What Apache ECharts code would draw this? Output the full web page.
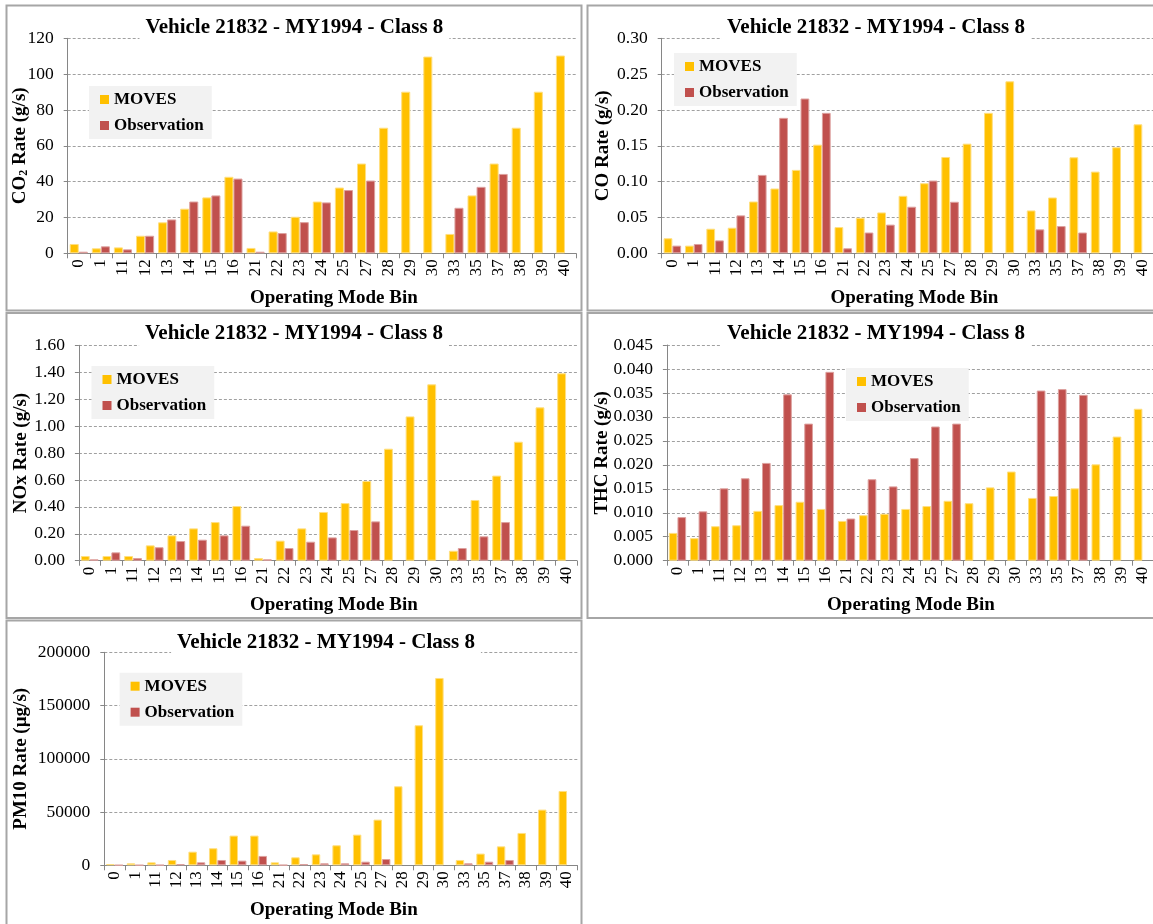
<!DOCTYPE html>
<html><head><meta charset="utf-8">
<script src="https://cdn.jsdelivr.net/npm/echarts@6/dist/echarts.min.js"></script>
<style>html,body{margin:0;padding:0;background:#fff}#c{width:1153px;height:924px}</style>
</head><body><div id="c"></div>
<script>
// ---- data ----
const categories = ['0','1','11','12','13','14','15','16','21','22','23','24','25','27','28','29','30','33','35','37','38','39','40'];
const seriesNames = ['MOVES', 'Observation'];
const titleText = 'Vehicle 21832 - MY1994 - Class 8';
const xAxisName = 'Operating Mode Bin';

const co2Moves = [5.2, 2.8, 3.3, 9.8, 17.3, 24.9, 31.2, 42.7, 3.0, 12.2, 20.4, 28.9, 36.7, 50.1, 70.1, 90.2, 109.8, 10.8, 32.3, 50.1, 70.1, 90.2, 110.4];
const co2Obs   = [0.9, 3.9, 2.2, 9.8, 18.9, 28.9, 32.3, 41.7, 0.9, 11.3, 17.4, 28.4, 35.3, 40.6, null, null, null, 25.4, 37.1, 44.3, null, null, null];

const coMoves = [0.021, 0.0107, 0.0343, 0.0357, 0.0723, 0.0904, 0.1164, 0.1516, 0.0366, 0.0496, 0.057, 0.0802, 0.0978, 0.1344, 0.153, 0.196, 0.240, 0.0598, 0.0779, 0.134, 0.114, 0.148, 0.180];
const coObs   = [0.0107, 0.013, 0.018, 0.0529, 0.1094, 0.189, 0.216, 0.196, 0.007, 0.029, 0.040, 0.065, 0.1015, 0.0719, null, null, null, 0.0334, 0.038, 0.029, null, null, null];

const noxMoves = [0.035, 0.035, 0.035, 0.114, 0.188, 0.240, 0.287, 0.406, 0.02, 0.149, 0.240, 0.362, 0.428, 0.592, 0.832, 1.072, 1.310, 0.074, 0.451, 0.632, 0.884, 1.139, 1.392];
const noxObs   = [0.01, 0.062, 0.02, 0.10, 0.146, 0.156, 0.188, 0.260, 0.01, 0.094, 0.141, 0.173, 0.228, 0.292, null, null, null, 0.094, 0.181, 0.287, null, null, null];

const thcMoves = [0.0058, 0.0047, 0.0072, 0.0074, 0.0104, 0.0116, 0.0123, 0.0108, 0.0083, 0.0095, 0.0098, 0.0108, 0.0114, 0.0125, 0.0120, 0.0153, 0.0186, 0.0131, 0.0135, 0.0151, 0.0201, 0.0259, 0.0317];
const thcObs   = [0.0091, 0.0103, 0.0151, 0.0172, 0.0204, 0.0347, 0.0286, 0.0394, 0.0088, 0.0170, 0.0155, 0.0214, 0.0280, 0.0286, null, null, null, 0.0355, 0.0358, 0.0346, null, null, null];

const pmMoves = [1200, 1900, 2800, 5000, 12800, 16000, 27900, 27900, 2800, 7500, 10300, 18800, 28800, 42900, 74200, 131500, 175900, 5000, 11000, 17800, 30400, 52300, 69800];
const pmObs   = [200, 200, 300, 1200, 2800, 5000, 4400, 8800, 300, 1200, 1900, 1900, 3400, 5900, null, null, null, 1900, 3400, 5000, null, null, null];

// ---- layout / style ----
const FONT = "'Liberation Serif','Times New Roman',serif";
const GOLD = '#FFC000', RED = '#C0504D';

const panels = [
  { moves: co2Moves, obs: co2Obs, max: 120, interval: 20, dec: 0,
    yName: '{b|CO}{s|2}{b| Rate (g/s)}',
    grid: {left: 67.7, top: 38.3, width: 508.3, height: 215}, yGap: 37.8, xShift: 12,
    title: {cx: 294.4, top: 15}, legend: {left: 89, top: 86},
    frame: {x: 6.5, y: 5.5, w: 575, h: 305} },
  { moves: coMoves, obs: coObs, max: 0.30, interval: 0.05, dec: 2,
    yName: '{b|CO Rate (g/s)}',
    grid: {left: 661.7, top: 38.3, width: 492.2, height: 215}, yGap: 49.4, xShift: 7,
    title: {cx: 876, top: 15}, legend: {left: 674, top: 53},
    frame: {x: 587.5, y: 5.5, w: 590, h: 305} },
  { moves: noxMoves, obs: noxObs, max: 1.6, interval: 0.2, dec: 2,
    yName: '{b|NOx Rate (g/s)}',
    grid: {left: 78.9, top: 345.3, width: 498, height: 215.4}, yGap: 48.4, xShift: 6,
    title: {cx: 294, top: 321.3}, legend: {left: 91.5, top: 366},
    frame: {x: 6.5, y: 313, w: 575, h: 305} },
  { moves: thcMoves, obs: thcObs, max: 0.045, interval: 0.005, dec: 3,
    yName: '{b|THC Rate (g/s)}',
    grid: {left: 666.9, top: 345, width: 494.5, height: 215.7}, yGap: 55.7, xShift: 1,
    title: {cx: 876, top: 321.3}, legend: {left: 846, top: 368},
    frame: {x: 587.5, y: 313, w: 590, h: 305} },
  { moves: pmMoves, obs: pmObs, max: 200000, interval: 50000, dec: 0,
    yName: '{b|PM10 Rate (µg/s)}',
    grid: {left: 104.3, top: 652.3, width: 473, height: 213}, yGap: 73.8, xShift: -7,
    title: {cx: 326, top: 630.3}, legend: {left: 119.6, top: 672.7},
    frame: {x: 6.5, y: 620.5, w: 575, h: 320} }
];

const option = {
  backgroundColor: '#fff',
  animation: false,
  title: [], legend: [], grid: [], xAxis: [], yAxis: [], series: [], graphic: []
};

panels.forEach((p, i) => {
  option.graphic.push({
    type: 'rect', silent: true, z: -10,
    shape: {x: p.frame.x, y: p.frame.y, width: p.frame.w, height: p.frame.h},
    style: {fill: 'none', stroke: '#a6a6a6', lineWidth: 2}
  });
  option.title.push({
    text: titleText, left: p.title.cx - 6, top: p.title.top, textAlign: 'center',
    backgroundColor: '#fff', padding: [2, 6, 3, 6],
    textStyle: {fontFamily: FONT, fontWeight: 'bold', fontSize: 21, color: '#000'}
  });
  option.legend.push({
    orient: 'vertical', left: p.legend.left, top: p.legend.top,
    data: seriesNames, icon: 'rect', itemWidth: 9, itemHeight: 9, itemGap: 9,
    itemStyle: {borderWidth: 0},
    backgroundColor: '#f2f2f2', padding: [5, 8, 5, 11], selectedMode: false,
    textStyle: {fontFamily: FONT, fontWeight: 'bold', fontSize: 17, color: '#000'}
  });
  option.grid.push(Object.assign({containLabel: false}, p.grid));
  const pad = p.xShift >= 0 ? [0, 0, 0, 2 * p.xShift] : [0, -2 * p.xShift, 0, 0];
  option.xAxis.push({
    type: 'category', gridIndex: i, data: categories,
    name: xAxisName, nameLocation: 'middle', nameGap: 35, nameMoveOverlap: false,
    nameTextStyle: {fontFamily: FONT, fontWeight: 'bold', fontSize: 19, color: '#000', padding: pad},
    axisLine: {show: true, lineStyle: {color: '#868686', width: 1}},
    axisTick: {show: true, length: 5, lineStyle: {color: '#868686'}},
    axisLabel: {interval: 0, rotate: 90, margin: 6, fontFamily: FONT, fontSize: 17, color: '#000'},
    splitLine: {show: false}
  });
  option.yAxis.push({
    type: 'value', gridIndex: i, min: 0, max: p.max, interval: p.interval,
    name: p.yName, nameLocation: 'middle', nameGap: p.yGap, nameMoveOverlap: false,
    nameTextStyle: {
      color: '#000',
      rich: {
        b: {fontFamily: FONT, fontWeight: 'bold', fontSize: 19, lineHeight: 19, color: '#000'},
        s: {fontFamily: FONT, fontWeight: 'bold', fontSize: 12, lineHeight: 6, verticalAlign: 'bottom', color: '#000'}
      }
    },
    axisLine: {show: true, lineStyle: {color: '#868686', width: 1}},
    axisTick: {show: true, length: 4, lineStyle: {color: '#868686'}},
    axisLabel: {margin: 14, fontFamily: FONT, fontSize: 17.5, color: '#000',
      formatter: v => v.toFixed(p.dec)},
    splitLine: {show: true, lineStyle: {color: '#a0a0a0', type: [3, 2], width: 1}}
  });
  option.series.push({
    name: seriesNames[0], type: 'bar', xAxisIndex: i, yAxisIndex: i, data: p.moves,
    barGap: '0%', barCategoryGap: '18%',
    itemStyle: {color: GOLD, borderColor: '#FFDF80', borderWidth: 1}
  });
  option.series.push({
    name: seriesNames[1], type: 'bar', xAxisIndex: i, yAxisIndex: i, data: p.obs,
    barGap: '0%', barCategoryGap: '18%',
    itemStyle: {color: RED, borderColor: '#DDA09E', borderWidth: 1}
  });
});

const chart = echarts.init(document.getElementById('c'), null, {renderer: 'canvas'});
chart.setOption(option);
</script></body></html>
